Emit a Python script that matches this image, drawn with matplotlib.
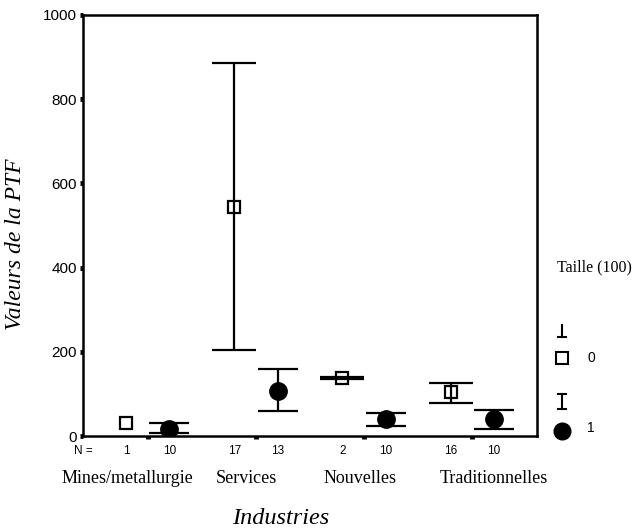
import numpy as np
import matplotlib
matplotlib.use("Agg")
import matplotlib.pyplot as plt
from matplotlib.lines import Line2D

# ---- data ----
groups = ["Mines/metallurgie", "Services", "Nouvelles", "Traditionnelles"]
mean0 = [31, 543, 138, 104]
lo0 = [np.nan, 205, 135, 79]
hi0 = [np.nan, 886, 141, 127]
n0 = [1, 17, 2, 16]
mean1 = [17, 107, 40, 40]
lo1 = [7, 60, 24, 16]
hi1 = [30, 160, 55, 62]
n1 = [10, 13, 10, 10]
yticks = [0, 200, 400, 600, 800, 1000]
legend_title = "Taille (100)"
legend_labels = ["0", "1"]

sans = "Liberation Sans"
serif = "Liberation Serif"

fig = plt.figure(figsize=(6.42, 5.32), dpi=100)
ax = fig.add_axes([83 / 642, 1 - 436 / 532, (537 - 83) / 642, (436 - 15) / 532])

x = np.arange(len(groups))
off = 0.2
x0 = x - off
x1 = x + off

m0 = np.array(mean0, float); l0 = np.array(lo0, float); h0 = np.array(hi0, float)
m1 = np.array(mean1, float); l1 = np.array(lo1, float); h1 = np.array(hi1, float)

valid0 = ~np.isnan(l0)
ax.errorbar(x0[valid0], m0[valid0], yerr=[m0[valid0] - l0[valid0], h0[valid0] - m0[valid0]],
            fmt="none", ecolor="black", elinewidth=1.6, capsize=15.5, capthick=1.6, zorder=2)
ax.errorbar(x1, m1, yerr=[m1 - l1, h1 - m1],
            fmt="none", ecolor="black", elinewidth=1.6, capsize=14.5, capthick=1.6, zorder=2)
ax.plot(x0, m0, ls="none", marker="s", ms=9, mfc="none", mec="black", mew=1.6, zorder=3)
ax.plot(x1, m1, ls="none", marker="o", ms=12.5, mfc="black", mec="black", zorder=3)

ax.set_xlim(-0.6, 3.6)
ax.set_ylim(0, 1000)
ax.set_yticks(yticks)
ax.set_yticklabels([str(v) for v in yticks], fontfamily=sans, fontsize=11)
ax.set_xticks(x)
ax.set_xticklabels([])
ax.tick_params(axis="both", direction="out", length=2.5, width=3.5, color="black", pad=2)
for s in ax.spines.values():
    s.set_linewidth(1.8)

# N labels
tr = ax.get_xaxis_transform()
nfs = 8.5
ax.text(-0.6, -0.035, "N =", transform=tr, ha="center", va="center", fontfamily=sans, fontsize=nfs)
for i in range(len(groups)):
    ax.text(x0[i], -0.035, str(n0[i]), transform=tr, ha="center", va="center", fontfamily=sans, fontsize=nfs)
    ax.text(x1[i], -0.035, str(n1[i]), transform=tr, ha="center", va="center", fontfamily=sans, fontsize=nfs)

# category labels
label_pos = [-0.19, 0.91, 1.96, 3.2]
for i, g in enumerate(groups):
    ax.text(label_pos[i], -0.1, g, transform=tr, ha="center", va="center", fontfamily=serif, fontsize=13)

fig.text(281 / 642, 1 - 519 / 532, "Industries", ha="center", va="center",
         fontfamily=serif, fontstyle="italic", fontsize=17.5)
fig.text(16 / 642, 1 - 244 / 532, "Valeurs de la PTF", ha="center", va="center", rotation=90,
         fontfamily=serif, fontstyle="italic", fontsize=17)

# legend
fig.text(557 / 642, 1 - 267 / 532, legend_title, ha="left", va="center", fontfamily=serif, fontsize=11.5)
lax = fig.add_axes([0, 0, 1, 1], facecolor="none")
lax.set_xlim(0, 642)
lax.set_ylim(532, 0)
lax.axis("off")
# error-bar glyph for series 0
lax.add_line(Line2D([562, 562], [325, 337], color="black", lw=1.5))
lax.add_line(Line2D([558, 566], [337, 337], color="black", lw=1.5))
lax.plot([562], [358], marker="s", ms=8, mfc="none", mec="black", mew=1.5)
lax.text(587, 358, legend_labels[0], ha="left", va="center", fontfamily=sans, fontsize=10)
# error-bar glyph for series 1
lax.add_line(Line2D([562, 562], [394, 409], color="black", lw=1.5))
lax.add_line(Line2D([558, 566], [394, 394], color="black", lw=1.5))
lax.add_line(Line2D([558, 566], [409, 409], color="black", lw=1.5))
lax.plot([562], [431], marker="o", ms=12, mfc="black", mec="black")
lax.text(587, 428, legend_labels[1], ha="left", va="center", fontfamily=sans, fontsize=10)

fig.savefig("out.png", dpi=100)
